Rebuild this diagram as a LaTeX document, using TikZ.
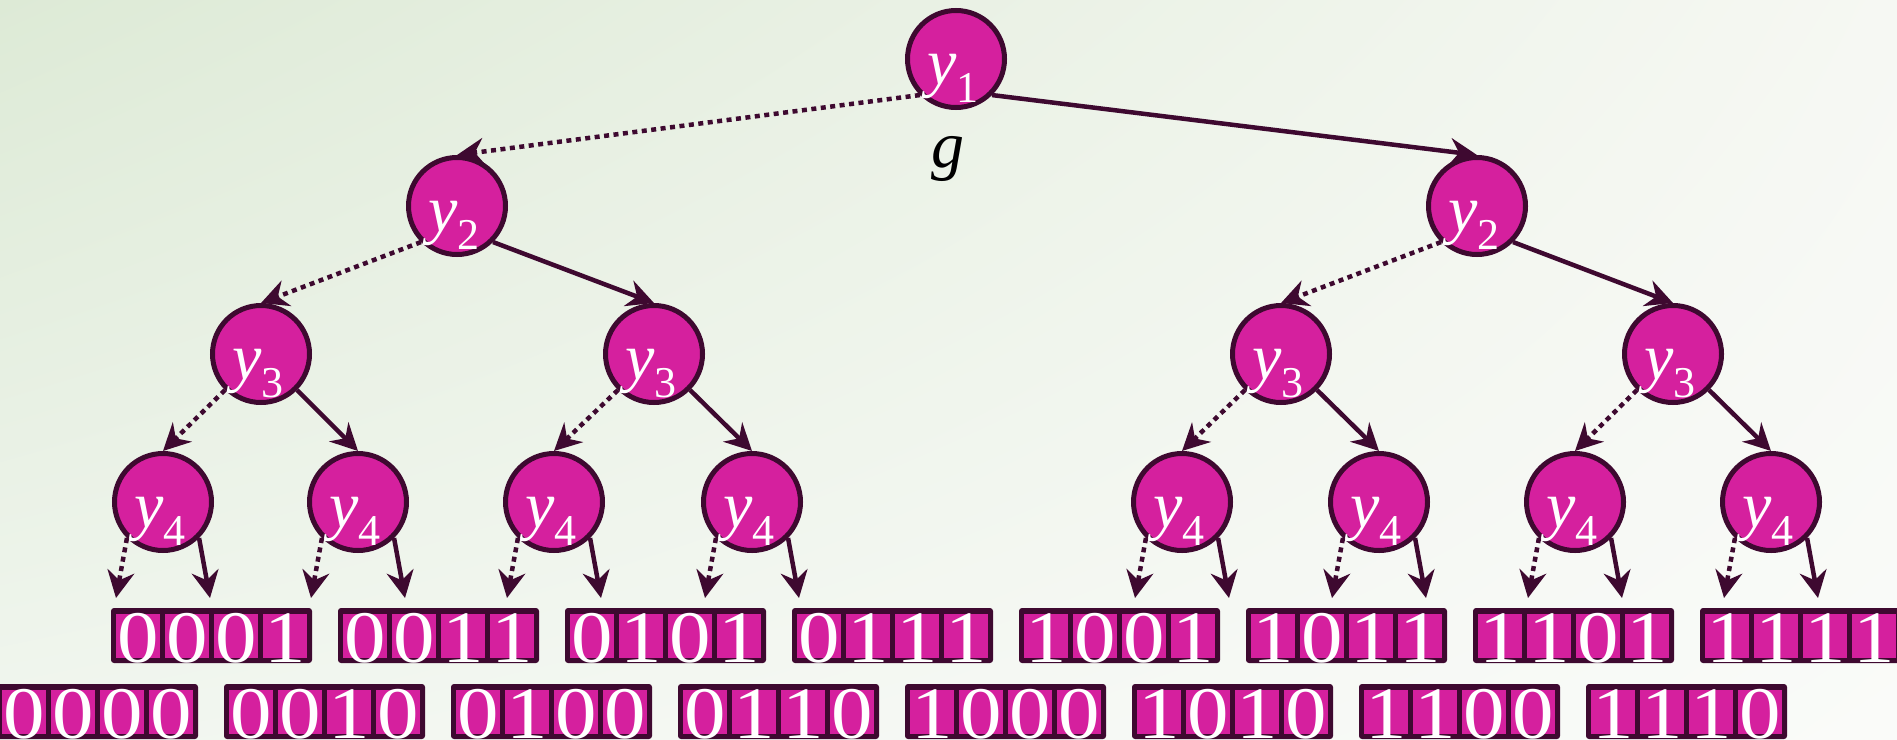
\documentclass[tikz,border=0pt]{standalone}
\usepackage{fontspec}
\setmainfont{Liberation Serif}
\usetikzlibrary{arrows.meta,shadings}
\definecolor{vfill}{RGB}{213,32,158}
\definecolor{vdark}{RGB}{62,9,48}
\definecolor{bgA}{RGB}{221,234,214}
\definecolor{bgB}{RGB}{246,248,243}
\definecolor{bgC}{RGB}{241,246,239}
\definecolor{bgD}{RGB}{250,251,249}
\newcommand\ysub[1]{\textit{y}\raisebox{-18pt}{\fontsize{44}{44}\selectfont #1}}
\newcommand\bitbox[7]{%
  \fill[vdark, rounded corners=3pt] (#1,#2) rectangle ++(201,55);
  \foreach \b [count=\i from 0] in {#3,#4,#5,#6} {
    \fill[vfill] (#1+5+49*\i, #2+6) rectangle ++(44,44);
    \node[digit] (#7-\i) at (#1+27+49*\i, #2+54) {\b};
  }}
\begin{document}
\begin{tikzpicture}[x=1pt,y=-1pt,
  vnode/.style={circle, draw=vdark, fill=vfill, line width=5pt, minimum size=97pt, inner sep=0pt},
  vlab/.style={anchor=base, inner sep=0pt, text=white, font=\fontsize{66}{66}\selectfont},
  glab/.style={anchor=base, inner sep=0pt, text=black, font=\fontsize{66}{66}\selectfont\itshape},
  edge/.style={draw=vdark, line width=4.5pt, -{Stealth[length=27pt,width=27pt,inset=9pt]}},
  dotedge/.style={edge, dash pattern=on 5pt off 4.5pt},
  digit/.style={anchor=base, inner sep=0pt, text=white, transform shape, xscale=1.12, font=\fontsize{74}{74}\selectfont},
]
\useasboundingbox (0,0) rectangle (1897,739);
\clip (0,0) rectangle (1897,739);
\shade[upper left=bgA, upper right=bgB, lower left=bgC, lower right=bgD] (0,0) rectangle (1897,739);

% level nodes
\node[vnode] (y1) at (956,59) {};
\node[vnode] (y2a) at (457,206) {};
\node[vnode] (y2b) at (1477,206) {};
\node[vnode] (y3a) at (261,354) {};
\node[vnode] (y3b) at (654,354) {};
\node[vnode] (y3c) at (1281,354) {};
\node[vnode] (y3d) at (1673,354) {};
\foreach \n/\x in {a/163,b/358,c/554,d/752,e/1182,f/1379,g/1575,h/1771}{
  \node[vnode] (y4\n) at (\x,502) {};
  \coordinate (t\n L) at (\x-47,598);
  \coordinate (t\n R) at (\x+47,598);
}

% labels
\node[vlab] (ly1) at ([xshift=-3pt,yshift=-25pt]y1.center) {\ysub{1}};
\foreach \n in {y2a,y2b}{\node[vlab] (l\n) at ([xshift=-3pt,yshift=-25pt]\n.center) {\ysub{2}};}
\foreach \n in {y3a,y3b,y3c,y3d}{\node[vlab] (l\n) at ([xshift=-3pt,yshift=-25pt]\n.center) {\ysub{3}};}
\foreach \n in {a,b,c,d,e,f,g,h}{\node[vlab] (ly4\n) at ([xshift=-3pt,yshift=-25pt]y4\n.center) {\ysub{4}};}
\node[glab] (g) at (948,167) {g};

% edges
\draw[dotedge] (y1.south west) -- (y2a.north);
\draw[edge] (y1.south east) -- (y2b.north);
\draw[dotedge] (y2a.south west) -- (y3a.north);
\draw[edge] (y2a.south east) -- (y3b.north);
\draw[dotedge] (y2b.south west) -- (y3c.north);
\draw[edge] (y2b.south east) -- (y3d.north);
\draw[dotedge] (y3a.south west) -- (y4a.north);
\draw[edge] (y3a.south east) -- (y4b.north);
\draw[dotedge] (y3b.south west) -- (y4c.north);
\draw[edge] (y3b.south east) -- (y4d.north);
\draw[dotedge] (y3c.south west) -- (y4e.north);
\draw[edge] (y3c.south east) -- (y4f.north);
\draw[dotedge] (y3d.south west) -- (y4g.north);
\draw[edge] (y3d.south east) -- (y4h.north);
\foreach \n in {a,b,c,d,e,f,g,h}{
  \draw[dotedge] (y4\n.south west) -- (t\n L);
  \draw[edge] (y4\n.south east) -- (t\n R);
}

% leaves
\bitbox{111}{608}{0}{0}{0}{1}{u1}
\bitbox{338}{608}{0}{0}{1}{1}{u2}
\bitbox{565}{608}{0}{1}{0}{1}{u3}
\bitbox{792}{608}{0}{1}{1}{1}{u4}
\bitbox{1019}{608}{1}{0}{0}{1}{u5}
\bitbox{1246}{608}{1}{0}{1}{1}{u6}
\bitbox{1473}{608}{1}{1}{0}{1}{u7}
\bitbox{1700}{608}{1}{1}{1}{1}{u8}
\bitbox{-3}{684}{0}{0}{0}{0}{d1}
\bitbox{224}{684}{0}{0}{1}{0}{d2}
\bitbox{451}{684}{0}{1}{0}{0}{d3}
\bitbox{678}{684}{0}{1}{1}{0}{d4}
\bitbox{905}{684}{1}{0}{0}{0}{d5}
\bitbox{1132}{684}{1}{0}{1}{0}{d6}
\bitbox{1359}{684}{1}{1}{0}{0}{d7}
\bitbox{1586}{684}{1}{1}{1}{0}{d8}
\end{tikzpicture}
\end{document}
